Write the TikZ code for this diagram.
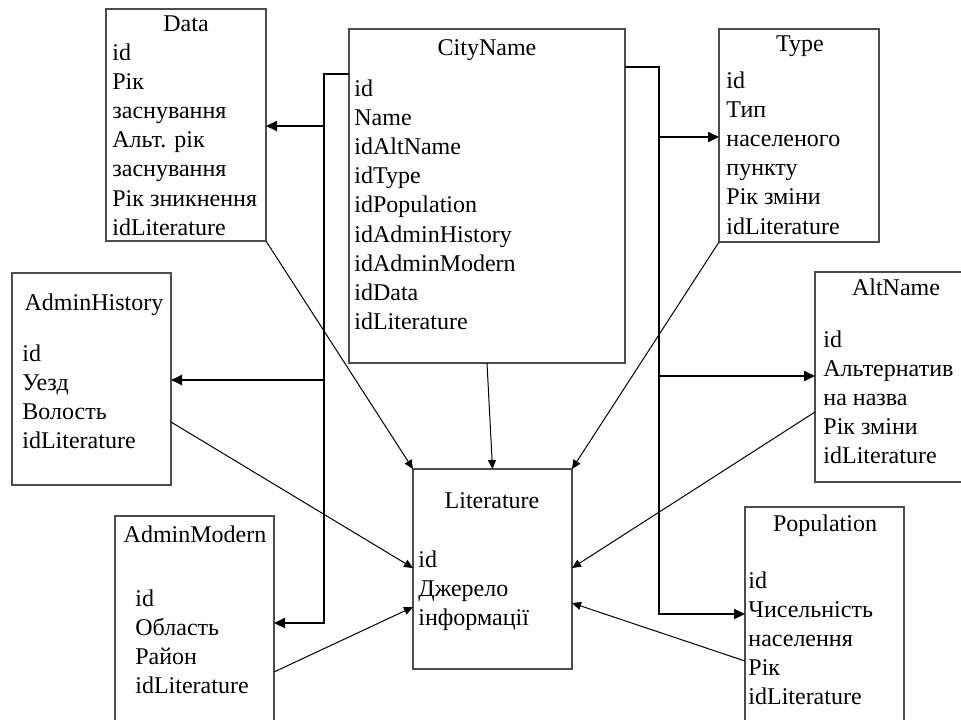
\documentclass[tikz,border=0pt]{standalone}
\usepackage{fontspec}
\setmainfont{Liberation Serif}
\usetikzlibrary{arrows.meta,calc}

\tikzset{
  tbl/.style={draw=black!70, line width=0.6pt, inner sep=0pt, outer sep=0pt, anchor=north west},
  field/.style={anchor=base west, inner sep=0pt, font=\fontsize{12}{14}\selectfont},
  ttl/.style={field, anchor=base},
  bus/.style={line width=1pt, line join=miter},
  busarrow/.style={bus, -{Triangle[length=5.5pt,width=5pt]}},
  link/.style={line width=0.5pt, -{Triangle[length=4.5pt,width=4pt]}},
}

% field lines of a table: name, left x, first baseline y, list
\newcommand\fieldlist[4]{%
  \foreach \t [count=\i from 0] in {#4} {%
    \node[field] (#1-\i) at (#2, {#3+29.2*\i}) {\t};%
  }%
}

\begin{document}
\begin{tikzpicture}[x=0.5pt, y=-0.5pt]
\useasboundingbox (0,0) rectangle (961,719);

% tables
\node[tbl, minimum width=80pt,  minimum height=116pt]   (data) at (106,9)  {};
\node[tbl, minimum width=138pt, minimum height=167pt]   (city) at (349,29) {};
\node[tbl, minimum width=80pt,  minimum height=106.5pt] (type) at (719,29) {};
\node[tbl, minimum width=79.5pt,minimum height=106pt]   (hist) at (12,273) {};
\node[tbl, minimum width=80pt,  minimum height=105pt]   (alt)  at (815,272) {};
\node[tbl, minimum width=79.5pt,minimum height=100pt]   (lit)  at (413,469) {};
\node[tbl, minimum width=79.5pt,minimum height=115pt]   (mod)  at (115,516) {};
\node[tbl, minimum width=79.5pt,minimum height=115pt]   (pop)  at (745,507) {};

% titles
\node[ttl] (data-title) at (186,31)  {Data};
\node[ttl] (city-title) at (487,55)  {CityName};
\node[ttl] (type-title) at (800,51)  {Type};
\node[ttl] (hist-title) at (94,310)  {AdminHistory};
\node[ttl] (alt-title)  at (896,295) {AltName};
\node[ttl] (lit-title)  at (492,508) {Literature};
\node[ttl] (mod-title)  at (195,542) {AdminModern};
\node[ttl] (pop-title)  at (825,531) {Population};

% fields
\fieldlist{data}{112}{60}{id,Рік,заснування,Альт. рік,заснування,Рік зникнення,idLiterature}
\fieldlist{city}{354}{96}{id,Name,idAltName,idType,idPopulation,idAdminHistory,idAdminModern,idData,idLiterature}
\fieldlist{type}{726}{88}{id,Тип,населеного,пункту,Рік зміни,idLiterature}
\fieldlist{hist}{22}{361}{id,Уезд,Волость,idLiterature}
\fieldlist{alt}{823}{347}{id,Альтернатив,на назва,Рік зміни,idLiterature}
\fieldlist{lit}{418}{567}{id,Джерело,інформації}
\fieldlist{mod}{135}{606}{id,Область,Район,idLiterature}
\fieldlist{pop}{748}{588}{id,Чисельність,населення,Рік,idLiterature}

% left bus from CityName
\coordinate (lb1) at (324,74);
\coordinate (lb2) at (324,623);
\coordinate (ld)  at (324,126);
\coordinate (lh)  at (324,380);
\draw[busarrow] (city.west |- lb1) -- (lb1) -- (lb2) -- (mod.east |- lb2);
\draw[busarrow] (ld) -- (data.east |- ld);
\draw[busarrow] (lh) -- (hist.east |- lh);

% right bus from CityName
\coordinate (rb1) at (659,67);
\coordinate (rb2) at (659,614);
\coordinate (rt)  at (659,137);
\coordinate (ra)  at (659,376);
\draw[busarrow] (city.east |- rb1) -- (rb1) -- (rb2) -- (pop.west |- rb2);
\draw[busarrow] (rt) -- (type.west |- rt);
\draw[busarrow] (ra) -- (alt.west |- ra);

% links to Literature
\draw[link] (data.south east) -- (lit.north west);
\draw[link] (city.south) -- (lit.north);
\draw[link] (type.south west) -- (lit.north east);
\draw[link] ($(hist.north east)+(0,149)$) -- ($(lit.north west)+(0,99)$);
\draw[link] ($(alt.north west)+(0,140)$)  -- ($(lit.north east)+(0,99)$);
\draw[link] ($(mod.north east)+(0,156)$)  -- ($(lit.north west)+(0,138)$);
\draw[link] ($(pop.north west)+(0,154)$)  -- ($(lit.north east)+(0,134)$);
\end{tikzpicture}
\end{document}
